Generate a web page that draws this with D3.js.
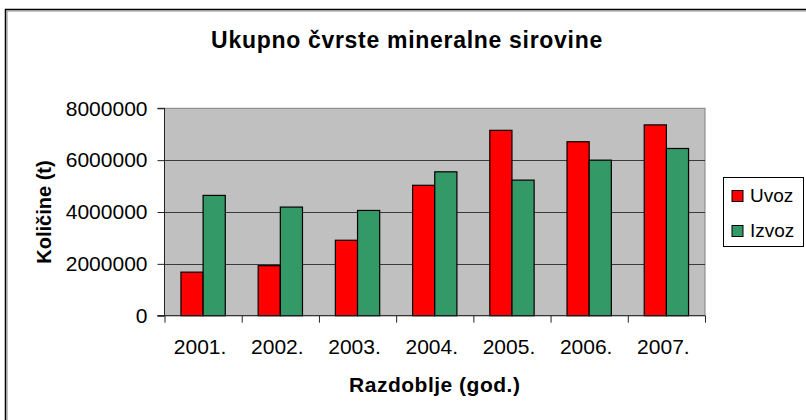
<!DOCTYPE html>
<html>
<head>
<meta charset="utf-8">
<script src="https://cdn.jsdelivr.net/npm/d3@7"></script>
<style>
  body { margin: 0; background: #fff; }
  svg { display: block; font-family: "Liberation Sans", Arial, sans-serif; }
</style>
</head>
<body>
<div id="chart"></div>
<script>
const years = ["2001.", "2002.", "2003.", "2004.", "2005.", "2006.", "2007."];
const seriesNames = ["Uvoz", "Izvoz"];
const uvoz = [1680000, 1930000, 2910000, 5030000, 7150000, 6710000, 7360000];
const izvoz = [4640000, 4190000, 4060000, 5550000, 5230000, 6000000, 6450000];
const yTicks = [0, 2000000, 4000000, 6000000, 8000000];
const colors = ["#ff0000", "#339966"];

const width = 806, height = 420;
const plot = { left: 164.5, right: 705, top: 108.3, bottom: 315.7 };

const svg = d3.select("#chart").append("svg")
    .attr("width", width)
    .attr("height", height);

svg.append("rect").attr("width", width).attr("height", height).attr("fill", "#fff");

// chart frame (runs off the right and bottom edge)
svg.append("rect")
    .attr("x", 5.5).attr("y", 9.5)
    .attr("width", 830).attr("height", 440)
    .attr("fill", "none")
    .attr("stroke", "#000")
    .attr("stroke-width", 1.5);
svg.append("path")
    .attr("d", "M7,11H830M7,11V450")
    .attr("stroke", "#888")
    .attr("stroke-width", 1);

const data = years.map((y, i) => ({ year: y, values: [uvoz[i], izvoz[i]] }));

const x0 = d3.scaleBand()
    .domain(years)
    .range([plot.left, plot.right])
    .paddingInner(0.426)
    .paddingOuter(0.213);

const x1 = d3.scaleBand()
    .domain(seriesNames)
    .range([0, x0.bandwidth()]);

const xEdges = d3.scaleLinear()
    .domain([0, years.length])
    .range([plot.left, plot.right]);

const y = d3.scaleLinear()
    .domain([0, 8000000])
    .range([plot.bottom, plot.top]);

// plot area
svg.append("rect")
    .attr("x", plot.left).attr("y", plot.top)
    .attr("width", plot.right - plot.left)
    .attr("height", plot.bottom - plot.top)
    .attr("fill", "#c0c0c0")
    .attr("stroke", "#808080")
    .attr("stroke-width", 1);

// gridlines
svg.append("g")
    .selectAll("line")
    .data(yTicks.filter(d => d > 0 && d < 8000000))
    .enter().append("line")
    .attr("x1", plot.left).attr("x2", plot.right)
    .attr("y1", d => Math.round(y(d)) + 0.5)
    .attr("y2", d => Math.round(y(d)) + 0.5)
    .attr("stroke", "#3a3a3a")
    .attr("stroke-width", 1);

// bars
const groups = svg.append("g")
    .selectAll("g")
    .data(data)
    .enter().append("g")
    .attr("transform", d => `translate(${x0(d.year)},0)`);

groups.selectAll("rect")
    .data(d => d.values.map((v, i) => ({ key: seriesNames[i], value: v, i })))
    .enter().append("rect")
    .attr("x", d => x1(d.key))
    .attr("y", d => y(d.value))
    .attr("width", x1.bandwidth())
    .attr("height", d => plot.bottom - y(d.value))
    .attr("fill", d => colors[d.i])
    .attr("stroke", "#000")
    .attr("stroke-width", 1.2);

// y axis
const yAxis = svg.append("g")
    .attr("transform", `translate(${plot.left},0)`)
    .call(d3.axisLeft(y)
        .tickValues(yTicks)
        .tickSize(7)
        .tickPadding(10)
        .tickFormat(d3.format("d")));
yAxis.select(".domain").attr("stroke", "#222").attr("d", `M-7,${plot.top}H0V${plot.bottom}H-7`);
yAxis.selectAll(".tick line").attr("stroke", "#222");
yAxis.selectAll("text").attr("font-size", 21).attr("fill", "#000");

// x axis: boundary ticks
const xAxisTicks = svg.append("g")
    .attr("transform", `translate(0,${plot.bottom})`)
    .call(d3.axisBottom(xEdges)
        .ticks(years.length)
        .tickSize(7)
        .tickFormat(""));
xAxisTicks.select(".domain").attr("stroke", "#222").attr("d", `M${plot.left - 7},0H${plot.right}`);
xAxisTicks.selectAll(".tick line").attr("stroke", "#222");

// x axis: category labels
const xAxisLabels = svg.append("g")
    .attr("transform", `translate(0,${plot.bottom})`)
    .call(d3.axisBottom(x0)
        .tickSize(0)
        .tickPadding(23.5));
xAxisLabels.select(".domain").remove();
xAxisLabels.selectAll("text").attr("font-size", 21).attr("fill", "#000").attr("dx", -3);

// titles
svg.append("text")
    .attr("x", 407).attr("y", 48.3)
    .attr("text-anchor", "middle")
    .attr("font-size", 23)
    .attr("letter-spacing", 0.7)
    .attr("font-weight", "bold")
    .text("Ukupno čvrste mineralne sirovine");

svg.append("text")
    .attr("x", (plot.left + plot.right) / 2).attr("y", 392)
    .attr("text-anchor", "middle")
    .attr("font-size", 21)
    .attr("letter-spacing", 0.5)
    .attr("font-weight", "bold")
    .text("Razdoblje (god.)");

svg.append("text")
    .attr("transform", `translate(51,${(plot.top + plot.bottom) / 2}) rotate(-90)`)
    .attr("text-anchor", "middle")
    .attr("font-size", 20)
    .attr("font-weight", "bold")
    .text("Količine (t)");

// legend
const legend = svg.append("g");
legend.append("rect")
    .attr("x", 723.5).attr("y", 177.5)
    .attr("width", 80).attr("height", 69)
    .attr("fill", "#fff")
    .attr("stroke", "#000")
    .attr("stroke-width", 1);

const legendItems = legend.selectAll("g.item")
    .data(seriesNames)
    .enter().append("g")
    .attr("class", "item")
    .attr("transform", (d, i) => `translate(0,${i * 35})`);

legendItems.append("rect")
    .attr("x", 732).attr("y", 190.5)
    .attr("width", 11).attr("height", 11)
    .attr("fill", (d, i) => colors[i])
    .attr("stroke", "#000")
    .attr("stroke-width", 1);

legendItems.append("text")
    .attr("x", 750).attr("y", 201.7)
    .attr("font-size", 19)
    .text(d => d);
</script>
</body>
</html>
